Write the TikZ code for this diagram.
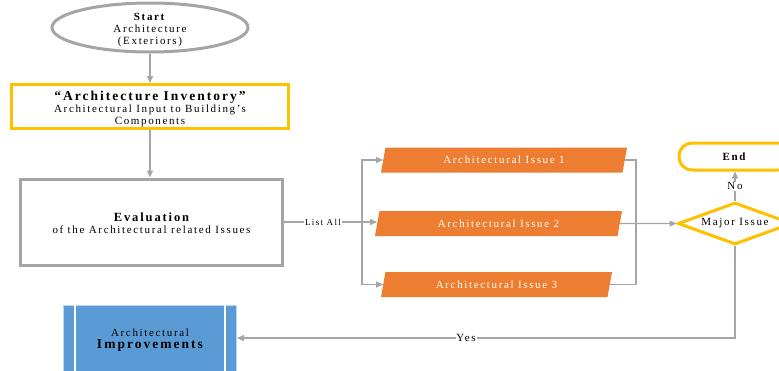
\documentclass[tikz,border=0pt]{standalone}
\usepackage{fontspec}
\setmainfont{Liberation Serif}[LetterSpace=15]
\usetikzlibrary{shapes.geometric,arrows.meta}
\definecolor{linegray}{HTML}{A5A5A5}
\definecolor{gold}{HTML}{FFC000}
\definecolor{issueorange}{HTML}{ED7D31}
\definecolor{impblue}{HTML}{5B9BD5}
\definecolor{impedge}{HTML}{BDD7EE}
\begin{document}
\begin{tikzpicture}[x=1pt,y=-1pt,
  txt/.style={font=\fontsize{11}{12}\selectfont, align=center, text=black},
  flow/.style={draw=linegray, line width=1.3pt},
  arr/.style={flow, -{Triangle[length=7pt,width=6pt]}},
  lbl/.style={fill=white, inner sep=0.8pt, font=\fontsize{11}{12}\selectfont},
  frame/.style={draw, line width=3pt, minimum width=#1},
  issue/.style={trapezium, trapezium left angle=60, trapezium right angle=120,
    trapezium stretches body, fill=issueorange, draw=none, inner sep=0pt,
    minimum height=25pt, minimum width=#1,
    font=\fontsize{11}{12}\selectfont, text=black!0}]
\clip (0,0) rectangle (779,370);
\fill[white] (0,0) rectangle (779,370);

% start / end terminals
\node[ellipse, draw=linegray, line width=3pt, inner sep=0pt,
      minimum width=196pt, minimum height=49pt] (start) at (150,27.5) {};
\node[txt, inner sep=0pt] (starttext) at (150,30) {\textbf{Start}\\Architecture\\(Exteriors)};
\node[draw=gold, line width=3pt, rounded corners=13pt, minimum width=112pt,
      minimum height=27pt, txt] (end) at (735,156.5) {\textbf{End}};

% process boxes
\node[frame=277pt, draw=gold, minimum height=44pt, inner sep=0pt, txt] (inv) at (150,106.5)
  {\rule{0pt}{15pt}{\fontsize{13.5}{13}\selectfont\bfseries “Architecture Inventory”}\\
   Architectural Input to Building’s\\Components};
\node[frame=262pt, draw=linegray, minimum height=86pt, txt] (eval) at (151.5,222)
  {\rule{0pt}{12pt}{\fontsize{12.5}{14}\selectfont\bfseries Evaluation}\\of the Architectural related Issues};

% issues
\node[issue=246pt] (issue1) at (504,160) {Architectural Issue 1};
\node[issue=247pt] (issue2) at (498.5,223.5) {Architectural Issue 2};
\node[issue=231pt] (issue3) at (496.5,284.5) {Architectural Issue 3};

% decision
\node[diamond, draw=gold, line width=3pt, inner sep=0pt, aspect=2.7,
      minimum width=114pt, minimum height=42pt, txt] (major) at (735,223.5) {Major Issue};

% improvements (predefined process)
\node[rectangle, fill=impblue, draw=impedge, line width=1pt,
      minimum width=173pt, minimum height=66pt, txt] (impr) at (150,338)
  {\rule{0pt}{12pt}Architectural\\{\fontsize{13.5}{15}\selectfont\bfseries Improvements}};
\draw[white, line width=1.2pt] ([xshift=12pt]impr.north west) -- ([xshift=12pt]impr.south west);
\draw[white, line width=1.2pt] ([xshift=-12pt]impr.north east) -- ([xshift=-12pt]impr.south east);

% connectors
\coordinate (split) at (362,222);
\coordinate (join) at (636,223.5);
\draw[arr] (start) -- (inv);
\draw[arr] (inv) -- (inv |- eval.north);
\draw[flow] (eval.east) -- node[lbl, font=\fontsize{9}{10}\selectfont] {List All} (split);
\draw[arr] (split) -- (split -| issue2.west);
\draw[arr] (split) |- (issue1.west);
\draw[arr] (split) |- (issue3.west);
\draw[flow] (issue1.east) -| (join);
\draw[flow] (issue3.east) -| (join);
\draw[arr] (issue2.east) -- (major.west);
\draw[arr] (major) -- node[lbl] {No} (end);
\draw[arr] (major.south) |- node[lbl, pos=0.77] {Yes} (impr.east);
\end{tikzpicture}
\end{document}
